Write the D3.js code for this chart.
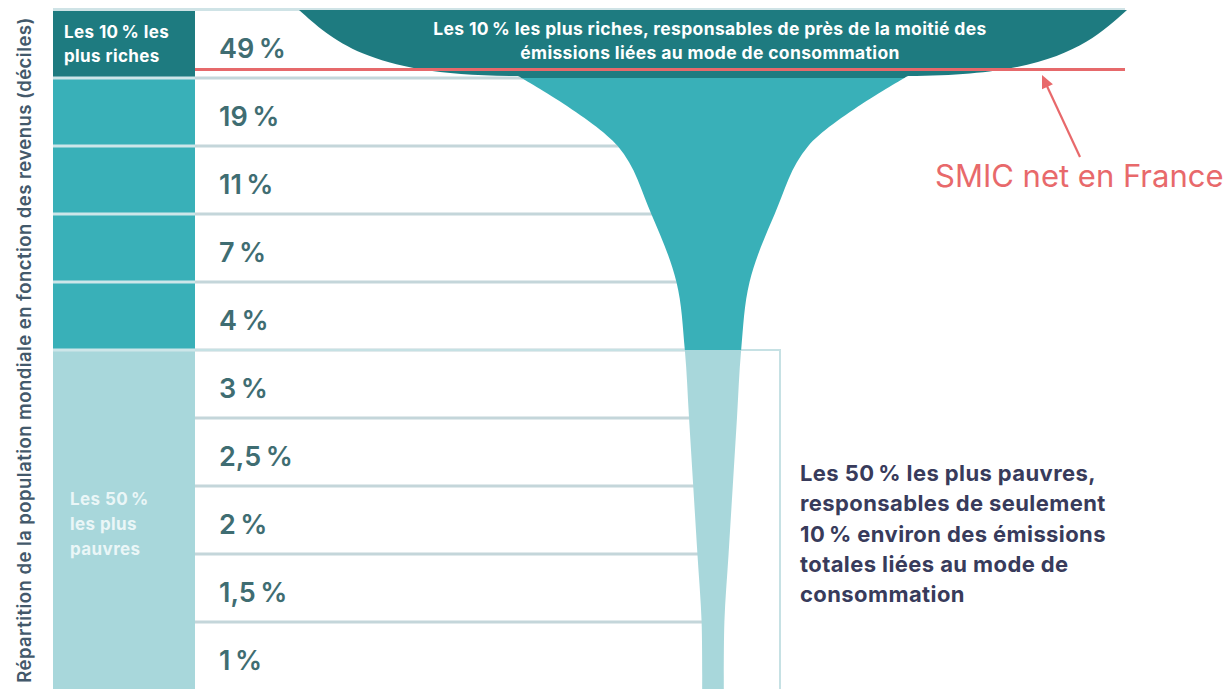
<!DOCTYPE html>
<html><head><meta charset="utf-8">
<script src="https://cdn.jsdelivr.net/npm/d3@7"></script>
<style>
html,body{margin:0;padding:0;background:#fff;}
svg{display:block;font-family:Inter,"Open Sans",sans-serif;}
</style></head><body>
<svg id="chart" width="1230" height="689"></svg>
<script>
// ---------- data ----------
const deciles = ["D10","D9","D8","D7","D6","D5","D4","D3","D2","D1"];
const emissionShares = [49, 19, 11, 7, 4, 3, 2.5, 2, 1.5, 1];
const shareLabels = ["49\u202F%","19\u202F%","11\u202F%","7\u202F%","4\u202F%","3\u202F%","2,5\u202F%","2\u202F%","1,5\u202F%","1\u202F%"];
const decileGroups = ["top10","middle","middle","middle","middle","bottom50","bottom50","bottom50","bottom50","bottom50"];
const yAxisTitle = "Répartition de la population mondiale en fonction des revenus (déciles)";
const topGroupLabel = ["Les 10\u202F% les","plus riches"];
const bottomGroupLabel = ["Les 50\u202F%","les plus","pauvres"];
const topNote = ["Les 10\u202F% les plus riches, responsables de près de la moitié des","émissions liées au mode de consommation"];
const bottomNote = ["Les 50\u202F% les plus pauvres,","responsables de seulement","10\u202F% environ des émissions","totales liées au mode de","consommation"];
const smicLabel = "SMIC net en France";

// ---------- styles ----------
const groupColor = {top10:"#1e7b80", middle:"#39b0b8", bottom50:"#a8d7db"};
const svg = d3.select("#chart");

const y = d3.scaleBand().domain(deciles).range([10, 690]);
const bw = y.bandwidth();
const hw = d3.scaleLinear().domain([0, d3.max(emissionShares)]).range([3, 414]); // half-width of funnel
const cx = 713;
const colL = 53, colR = 195, tableR = 1125;

// gradient for funnel colours
const defs = svg.append("defs");
const grad = defs.append("linearGradient").attr("id","funnelFill")
  .attr("gradientUnits","userSpaceOnUse").attr("x1",0).attr("y1",0).attr("x2",0).attr("y2",1000);
const b1 = y(deciles[1]) / 1000, b5 = y(deciles[5]) / 1000;
[[0,groupColor.top10],[b1,groupColor.top10],[b1,groupColor.middle],[b5,groupColor.middle],[b5,groupColor.bottom50],[1,groupColor.bottom50]]
  .forEach(([o,c]) => grad.append("stop").attr("offset",o).attr("stop-color",c));

// left column blocks
svg.append("g").selectAll("rect").data(deciles).join("rect")
  .attr("x", colL).attr("width", colR - colL)
  .attr("y", d => y(d)).attr("height", bw)
  .attr("fill", (d,i) => groupColor[decileGroups[i]]);

// left column separators (top half)
svg.append("g").selectAll("line").data(deciles.slice(1,6)).join("line")
  .attr("x1", colL).attr("x2", colR)
  .attr("y1", d => y(d)).attr("y2", d => y(d))
  .attr("stroke", "#cde6e9").attr("stroke-width", 3);

// top border
svg.append("line").attr("x1", colL).attr("x2", tableR).attr("y1", 9.5).attr("y2", 9.5)
  .attr("stroke", "#cfe3e6").attr("stroke-width", 3);

// row separators in white area
svg.append("g").selectAll("line").data(deciles.slice(1)).join("line")
  .attr("x1", colR).attr("x2", cx)
  .attr("y1", d => y(d)).attr("y2", d => y(d))
  .attr("stroke", "#c4d6da").attr("stroke-width", 3);

// outline of poorest 50 %
const yB = y(deciles[5]);
svg.append("path")
  .attr("d", `M${colR},${yB}H780V690`)
  .attr("fill","none").attr("stroke","#c6e1e4").attr("stroke-width",2);

// ---------- funnel ----------
const y0 = y(deciles[0]);
const topHw = hw(emissionShares[0]);
const neckY = y(deciles[1]) - 2;
const neckHw = hw(emissionShares[1]) * 1.2;
const bowl = d3.path();
bowl.moveTo(cx - topHw, y0);
bowl.bezierCurveTo(cx - topHw + 34, y0 + 30, cx - neckHw - 150, neckY, cx - neckHw, neckY);
bowl.lineTo(cx + neckHw, neckY);
bowl.bezierCurveTo(cx + neckHw + 150, neckY, cx + topHw - 34, y0 + 30, cx + topHw, y0);
bowl.closePath();
svg.append("path").attr("d", bowl.toString()).attr("fill", "url(#funnelFill)");

const pts = [{y: neckY, w: neckHw}];
for (let i = 2; i < deciles.length; i++) pts.push({y: y(deciles[i]), w: hw(emissionShares[i])});
pts.push({y: y.range()[1], w: hw(emissionShares[emissionShares.length - 1]) * 0.95});
const area = d3.area().curve(d3.curveCatmullRom.alpha(0.5))
  .y(d => d.y).x0(d => cx - d.w).x1(d => cx + d.w);
svg.append("path").attr("d", area(pts)).attr("fill", "url(#funnelFill)");

// SMIC line
const smicY = y0 + bw * 0.875;
svg.append("line").attr("x1", colR).attr("x2", tableR).attr("y1", smicY).attr("y2", smicY)
  .attr("stroke", "#e6696b").attr("stroke-width", 3);

// text in bowl
svg.append("text").attr("text-anchor","middle")
  .attr("fill","#ffffff").attr("font-size",17.5).attr("font-weight",700).attr("letter-spacing",0.35)
  .selectAll("tspan").data(topNote).join("tspan")
  .attr("x", cx - 3).attr("y", (d,i) => 35 + i * 24).text(d => d);

// percentage labels
svg.append("g").selectAll("text").data(deciles).join("text")
  .attr("x", 219).attr("y", d => y(d) + bw / 2 + 14)
  .attr("fill", "#3f6d72").attr("font-size", 27).attr("font-weight", 600).attr("letter-spacing",0.6)
  .text((d,i) => shareLabels[i]);

// left group labels
svg.append("text").attr("fill","#ffffff").attr("font-size",17).attr("font-weight",700).attr("letter-spacing",0.4)
  .selectAll("tspan").data(topGroupLabel).join("tspan")
  .attr("x", 64).attr("y", (d,i) => 38 + i * 24).text(d => d);
svg.append("text").attr("fill","#eaf6f7").attr("font-size",17).attr("font-weight",700).attr("letter-spacing",0.4)
  .selectAll("tspan").data(bottomGroupLabel).join("tspan")
  .attr("x", 70).attr("y", (d,i) => 505 + i * 25).text(d => d);

// y axis title
svg.append("text").attr("transform", "translate(31,350) rotate(-90)")
  .attr("text-anchor","middle").attr("fill","#43596b")
  .attr("font-size",18.5).attr("font-weight",600).attr("letter-spacing",0.45).text(yAxisTitle);

// bottom note
svg.append("text").attr("fill","#383b5b").attr("font-size",22).attr("font-weight",700).attr("letter-spacing",0.4)
  .selectAll("tspan").data(bottomNote).join("tspan")
  .attr("x", 800).attr("y", (d,i) => 481 + i * 30.3).text(d => d);

// SMIC annotation
const red = "#e8696b";
svg.append("line").attr("x1",1080).attr("y1",157).attr("x2",1046).attr("y2",84)
  .attr("stroke",red).attr("stroke-width",2.2);
{
  const tip = [1042,75], ang = Math.atan2(157-75, 1080-1042);
  const L = 13, W = 6;
  const bx = tip[0] + L*Math.cos(ang), by = tip[1] + L*Math.sin(ang);
  const px = -Math.sin(ang)*W, py = Math.cos(ang)*W;
  svg.append("path").attr("d", `M${tip[0]},${tip[1]}L${bx+px},${by+py}L${bx-px},${by-py}Z`).attr("fill",red);
}
svg.append("text").attr("x",935).attr("y",187).attr("fill",red)
  .attr("font-size",31).attr("font-weight",400).text(smicLabel);
</script>
</body></html>
